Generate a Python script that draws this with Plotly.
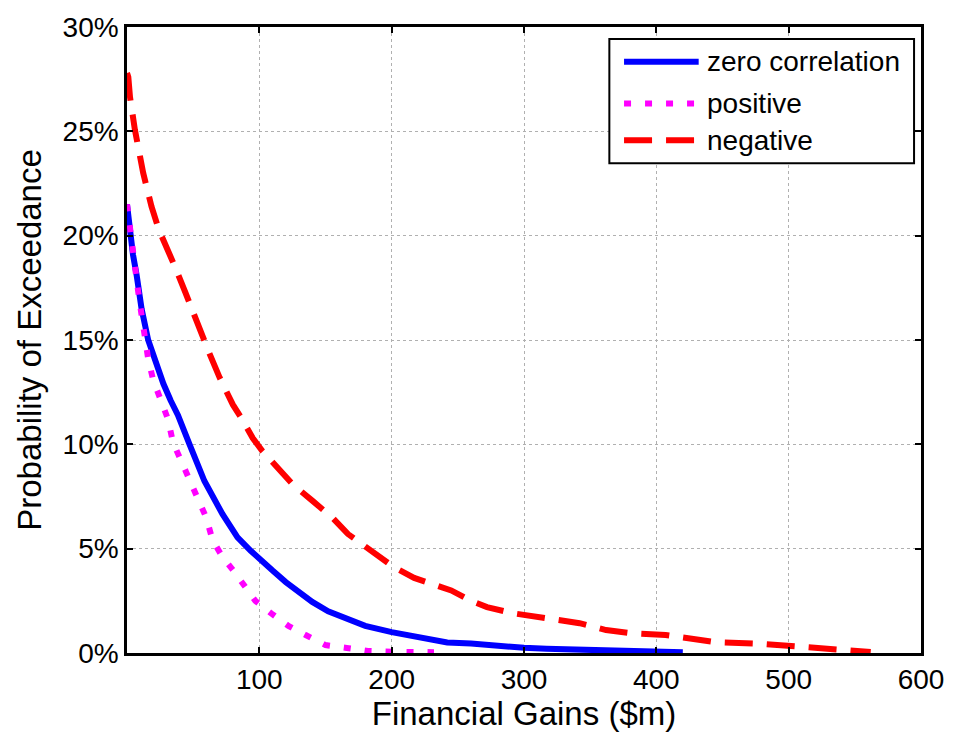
import plotly.graph_objects as go

# ---- data ----
zero_x = [0, 1, 2.25, 4.5, 7.3, 11, 16, 22.3, 27.5, 33, 38.5, 47.25, 58.5, 72.2, 83.5, 93.5,
          100, 110, 120, 130, 140, 152, 165, 180, 200, 225, 242, 260, 277, 300, 317, 350,
          380, 400, 420]
zero_y = [21.5, 21.0, 20.0, 19.1, 18.1, 16.5, 15.0, 13.8, 12.9, 12.1, 11.4, 10.0, 8.24, 6.65,
          5.54, 4.9, 4.5, 3.95, 3.4, 2.9, 2.45, 2.0, 1.7, 1.3, 1.0, 0.7, 0.5, 0.45, 0.35,
          0.25, 0.2, 0.15, 0.08, 0.05, 0.03]

pos_x = [0, 2, 3.5, 6, 8.5, 11, 16, 19.7, 24.75, 31, 34.7, 41, 46.7, 53, 59.8, 64.7, 72.2,
         81, 90, 97, 109, 122, 135, 150, 166, 182, 200, 232]
pos_y = [21.5, 20.5, 19.3, 18.2, 17.3, 16.2, 14.1, 13.1, 12.2, 11.2, 10.1, 9.2, 8.24, 7.37,
         6.5, 5.4, 4.6, 3.9, 3.1, 2.5, 1.9, 1.3, 0.86, 0.38, 0.24, 0.1, 0.06, 0.04]

neg_x = [0, 1, 2.25, 6, 12.25, 18.5, 24, 30, 37, 44, 50, 56, 62, 70, 80, 87, 95, 102, 115,
         125, 140, 155, 167, 185, 202, 217, 230, 245, 260, 272, 292, 317, 342, 362, 380,
         407, 427, 445, 482, 500, 525, 545, 562]
neg_y = [27.8, 27.6, 26.65, 25.06, 23.0, 21.4, 20.3, 19.5, 18.4, 17.3, 16.3, 15.4, 14.4,
         13.2, 11.9, 11.2, 10.3, 9.7, 8.8, 8.1, 7.3, 6.5, 5.7, 4.9, 4.1, 3.6, 3.3, 3.0, 2.5,
         2.2, 1.9, 1.67, 1.43, 1.1, 0.95, 0.86, 0.7, 0.52, 0.43, 0.33, 0.24, 0.1, 0.05]

series_names = ["zero correlation", "positive", "negative"]
series_colors = ["#0000ff", "#ff00ff", "#ff0000"]
series_dash = ["solid", "7px,14px", "28px,14px"]

x_ticks = [100, 200, 300, 400, 500, 600]
y_ticks = [0, 5, 10, 15, 20, 25, 30]
y_ticktext = [f"{v}%" for v in y_ticks]

FONT = "Liberation Sans, Arial, sans-serif"

fig = go.Figure()
for xs, ys, name, color, dash in zip([zero_x, pos_x, neg_x], [zero_y, pos_y, neg_y],
                                     series_names, series_colors, series_dash):
    fig.add_trace(go.Scatter(x=xs, y=ys, mode="lines", name=name, showlegend=False,
                             line=dict(color=color, width=6, dash=dash)))

# legend box drawn in paper coordinates (long line samples as in the reference)
shapes = [dict(type="rect", xref="paper", yref="paper", x0=0.6075, x1=0.99125,
               y0=0.7825, y1=0.981, line=dict(color="black", width=2),
               fillcolor="white", layer="above")]
annotations = []
row_y = [0.9444, 0.8778, 0.819]
for ry, name, color, dash in zip(row_y, series_names, series_colors, series_dash):
    shapes.append(dict(type="line", xref="paper", yref="paper", x0=0.626, x1=0.72,
                       y0=ry, y1=ry, line=dict(color=color, width=6, dash=dash),
                       layer="above"))
    annotations.append(dict(xref="paper", yref="paper", x=0.7285, y=ry, text=name,
                            showarrow=False, xanchor="left", yanchor="middle",
                            font=dict(size=28, color="black", family=FONT)))

axis_common = dict(
    showline=True, linecolor="black", linewidth=2.5, mirror="ticks",
    ticks="inside", ticklen=6, tickwidth=1.5, tickcolor="black",
    showgrid=True, gridcolor="#b0b0b0", gridwidth=1.2, griddash="dot",
    zeroline=False, tickfont=dict(size=28, color="black", family=FONT),
)

fig.update_layout(
    width=956, height=734,
    margin=dict(l=127, r=29, t=23, b=81),
    paper_bgcolor="white", plot_bgcolor="white",
    font=dict(family=FONT, color="black"),
    showlegend=False,
    shapes=shapes,
    annotations=annotations,
    xaxis=dict(range=[0, 600], tickvals=x_ticks,
               title=dict(text="Financial Gains ($m)", font=dict(size=33), standoff=4),
               **axis_common),
    yaxis=dict(range=[0, 30], tickvals=y_ticks, ticktext=y_ticktext,
               title=dict(text="Probability of Exceedance", font=dict(size=33), standoff=12),
               **axis_common),
)

fig.write_html("out.html", config={"displayModeBar": False},
               post_script="document.body.style.margin='0';document.body.style.overflow='hidden';")
